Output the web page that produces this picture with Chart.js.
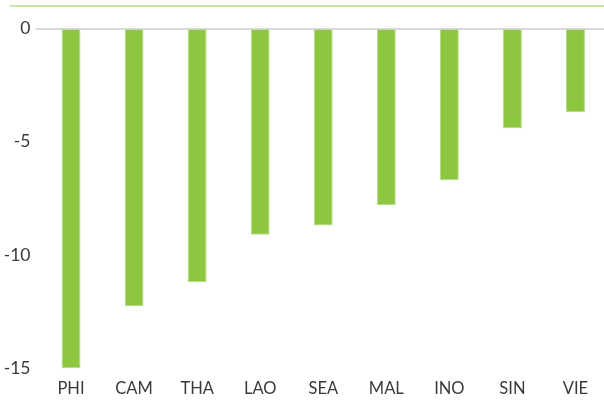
<!DOCTYPE html>
<html>
<head>
<meta charset="utf-8">
<script src="https://cdn.jsdelivr.net/npm/chart.js@4"></script>
<style>
  html, body { margin: 0; padding: 0; background: #fff; overflow: hidden; width: 604px; height: 410px; }
  #wrap { position: absolute; left: 0; top: 0; width: 607px; height: 410px; }
</style>
</head>
<body>
<div id="wrap"><canvas id="gapChart" width="607" height="410"></canvas></div>
<script>
// Economy codes along the bottom
const economies = ["PHI", "CAM", "THA", "LAO", "SEA", "MAL", "INO", "SIN", "VIE"];
// Values
const values = [-15.0, -12.25, -11.2, -9.1, -8.7, -7.8, -6.7, -4.4, -3.7];
// Y axis tick labels
const yTicks = [0, -5, -10, -15];

// thin green rule at the top (what is left of the cut-off title band)
const topRule = {
  id: "topRule",
  beforeDraw(chart) {
    const c = chart.ctx;
    c.save();
    c.strokeStyle = "#b7dc8c";
    c.lineWidth = 1.5;
    c.beginPath();
    c.moveTo(10, 6);
    c.lineTo(604, 6);
    c.stroke();
    c.restore();
  },
};

const ctx = document.getElementById("gapChart").getContext("2d");

new Chart(ctx, {
  type: "bar",
  data: {
    labels: economies,
    datasets: [
      {
        data: values,
        backgroundColor: "#8dc63f",
        borderColor: "#b5db86",
        borderWidth: 1,
        barPercentage: 0.3,
        categoryPercentage: 1,
      },
    ],
  },
  options: {
    responsive: false,
    animation: false,
    layout: {
      padding: { top: 28.5, bottom: 0, left: 0, right: 0 },
    },
    plugins: {
      legend: { display: false },
      tooltip: { enabled: false },
    },
    scales: {
      x: {
        afterFit(scale) {
          scale.height = 41.7;
        },
        grid: { display: false, drawTicks: false },
        border: { display: false },
        ticks: {
          color: "#3a3a3a",
          padding: 10,
          font: { family: "Lato", size: 16.5 },
        },
      },
      y: {
        min: -15,
        max: 0,
        afterBuildTicks(scale) {
          scale.ticks = yTicks.map((v) => ({ value: v }));
        },
        afterFit(scale) {
          scale.width = 39.5;
        },
        grid: {
          color: (c) => (c.tick && c.tick.value === 0 ? "#d9d9d9" : "rgba(0,0,0,0)"),
          lineWidth: 2,
          tickLength: 4,
        },
        border: { display: false },
        ticks: {
          color: "#3a3a3a",
          padding: 5,
          font: { family: "Lato", size: 17.5 },
        },
      },
    },
  },
  plugins: [topRule],
});
</script>
</body>
</html>
